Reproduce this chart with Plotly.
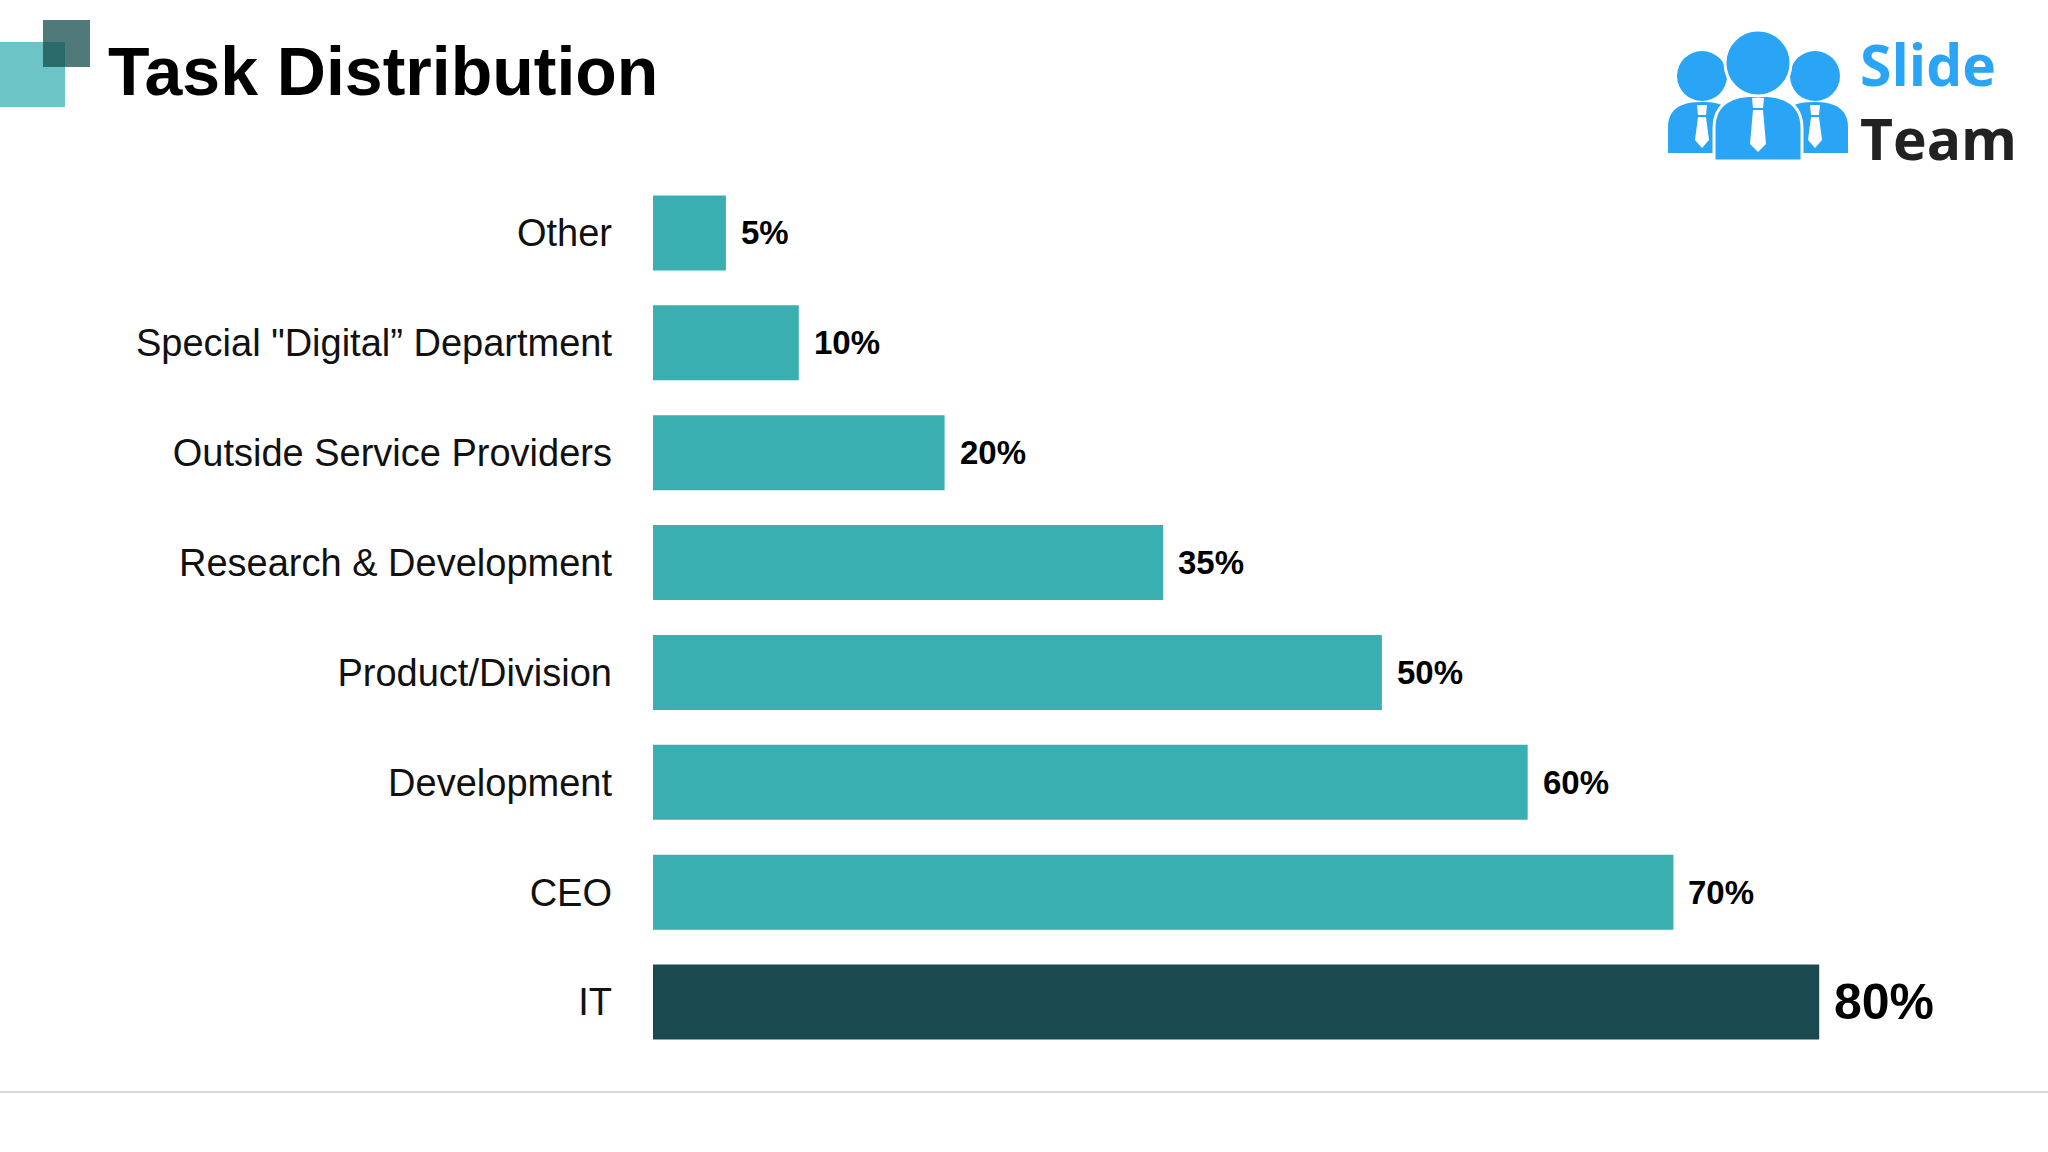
import plotly.graph_objects as go

# ---- data ----
categories = ["IT", "CEO", "Development", "Product/Division",
              "Research & Development", "Outside Service Providers",
              'Special "Digital\u201d Department', "Other"]
values = [80, 70, 60, 50, 35, 20, 10, 5]
highlight = ["IT"]

W, H = 2048, 1152
TEAL = "#39AFB2"
DARK = "#1A4A50"
BLUE = "#2AA5F5"
FONT = "Liberation Sans, Arial, sans-serif"


def X(px):
    return px / W


def Y(py):
    return 1 - py / H


def path(cmds):
    out = []
    for c in cmds:
        op, pts = c[0], c[1:]
        coords = " ".join(f"{X(pts[i]):.5f},{Y(pts[i+1]):.5f}" for i in range(0, len(pts), 2))
        out.append(f"{op} {coords}".strip())
    return " ".join(out)


bar_colors = [DARK if c in highlight else TEAL for c in categories]

fig = go.Figure(go.Bar(
    x=values, y=categories, orientation="h",
    marker=dict(color=bar_colors, line=dict(width=0)),
    hoverinfo="skip",
))

annotations = []
for c, v in zip(categories, values):
    big = c in highlight
    annotations.append(dict(
        x=v, y=c, xref="x", yref="y", xanchor="left", yanchor="middle",
        xshift=13, showarrow=False, text=f"<b>{v}%</b>",
        font=dict(family=FONT, size=50 if big else 33, color="#000000"),
    ))

# title
annotations.append(dict(
    x=X(106), y=Y(71), xref="paper", yref="paper", xanchor="left", yanchor="middle",
    showarrow=False, text="<b>Task Distribution</b>",
    font=dict(family=FONT, size=68, color="#000000"),
))
# logo text (two lines in one block)
annotations.append(dict(
    x=X(1858), y=Y(101), xref="paper", yref="paper", xanchor="left", yanchor="middle",
    showarrow=False, align="left",
    text=f"<b><span style='color:{BLUE}'>Slide</span></b><br><b><span style='color:#222222'>Team</span></b>",
    font=dict(family="Open Sans, sans-serif", size=57, color="#222222"),
))

shapes = []
# decorative squares
shapes.append(dict(type="rect", xref="paper", yref="paper", x0=X(0), x1=X(65), y0=Y(107), y1=Y(42),
                   fillcolor="#6CC4C7", line=dict(width=0), layer="above"))
shapes.append(dict(type="rect", xref="paper", yref="paper", x0=X(43), x1=X(90), y0=Y(67), y1=Y(20),
                   fillcolor="rgba(20,78,76,0.75)", line=dict(width=0), layer="above"))
# bottom line
shapes.append(dict(type="line", xref="paper", yref="paper", x0=0, x1=1, y0=Y(1092), y1=Y(1092),
                   line=dict(color="#D9D9D9", width=2), layer="above"))


def person(cx, head_cy, head_r, body_l, body_r, body_top, body_bot, tie_top, tie_tip, outline):
    lw = 3 if outline else 0
    lc = "#FFFFFF"
    mid = (body_l + body_r) / 2
    hw = (body_r - body_l) / 2
    shapes.append(dict(
        type="path", xref="paper", yref="paper",
        path=path([("M", body_l, body_bot),
                   ("L", body_l, body_top + hw * 0.75),
                   ("C", body_l, body_top + hw * 0.15, mid - hw * 0.55, body_top, mid, body_top),
                   ("C", mid + hw * 0.55, body_top, body_r, body_top + hw * 0.15, body_r, body_top + hw * 0.75),
                   ("L", body_r, body_bot), ("Z",)]),
        fillcolor=BLUE, line=dict(color=lc, width=lw), layer="above"))
    shapes.append(dict(type="circle", xref="paper", yref="paper",
                       x0=X(cx - head_r), x1=X(cx + head_r), y0=Y(head_cy + head_r), y1=Y(head_cy - head_r),
                       fillcolor=BLUE, line=dict(color=lc, width=lw), layer="above"))
    k = 6 if outline else 5
    shapes.append(dict(
        type="path", xref="paper", yref="paper",
        path=path([("M", cx - k, tie_top), ("L", cx + k, tie_top), ("L", cx + k - 1, tie_top + 10),
                   ("L", cx - k + 1, tie_top + 10), ("Z",)]),
        fillcolor="#FFFFFF", line=dict(width=0), layer="above"))
    shapes.append(dict(
        type="path", xref="paper", yref="paper",
        path=path([("M", cx - k + 1, tie_top + 12), ("L", cx + k - 1, tie_top + 12),
                   ("L", cx + k + 2, tie_tip - 8), ("L", cx, tie_tip), ("L", cx - k - 2, tie_tip - 8), ("Z",)]),
        fillcolor="#FFFFFF", line=dict(width=0), layer="above"))


person(1702, 76, 25, 1668, 1736, 102, 153, 105, 148, False)
person(1815, 76, 25, 1780, 1848, 102, 153, 105, 148, False)
person(1758, 63, 33, 1714, 1802, 95, 161, 98, 152, True)

fig.update_layout(
    width=W, height=H,
    margin=dict(l=0, r=0, t=0, b=0),
    paper_bgcolor="#FFFFFF", plot_bgcolor="#FFFFFF",
    showlegend=False,
    bargap=0.317,
    annotations=annotations,
    shapes=shapes,
    xaxis=dict(domain=[X(653), X(1965)], range=[0, 90], visible=False, fixedrange=True),
    yaxis=dict(domain=[Y(1057), Y(178)], range=[-0.5, 7.5], type="category",
               categoryorder="array", categoryarray=categories,
               showgrid=False, zeroline=False, showline=False, ticks="",
               ticklabelstandoff=40,
               tickfont=dict(family=FONT, size=38, color="#111111"), fixedrange=True),
)

fig.write_html("out.html", config={"displayModeBar": False},
               post_script="document.body.style.margin='0px';document.body.style.overflow='hidden';")
